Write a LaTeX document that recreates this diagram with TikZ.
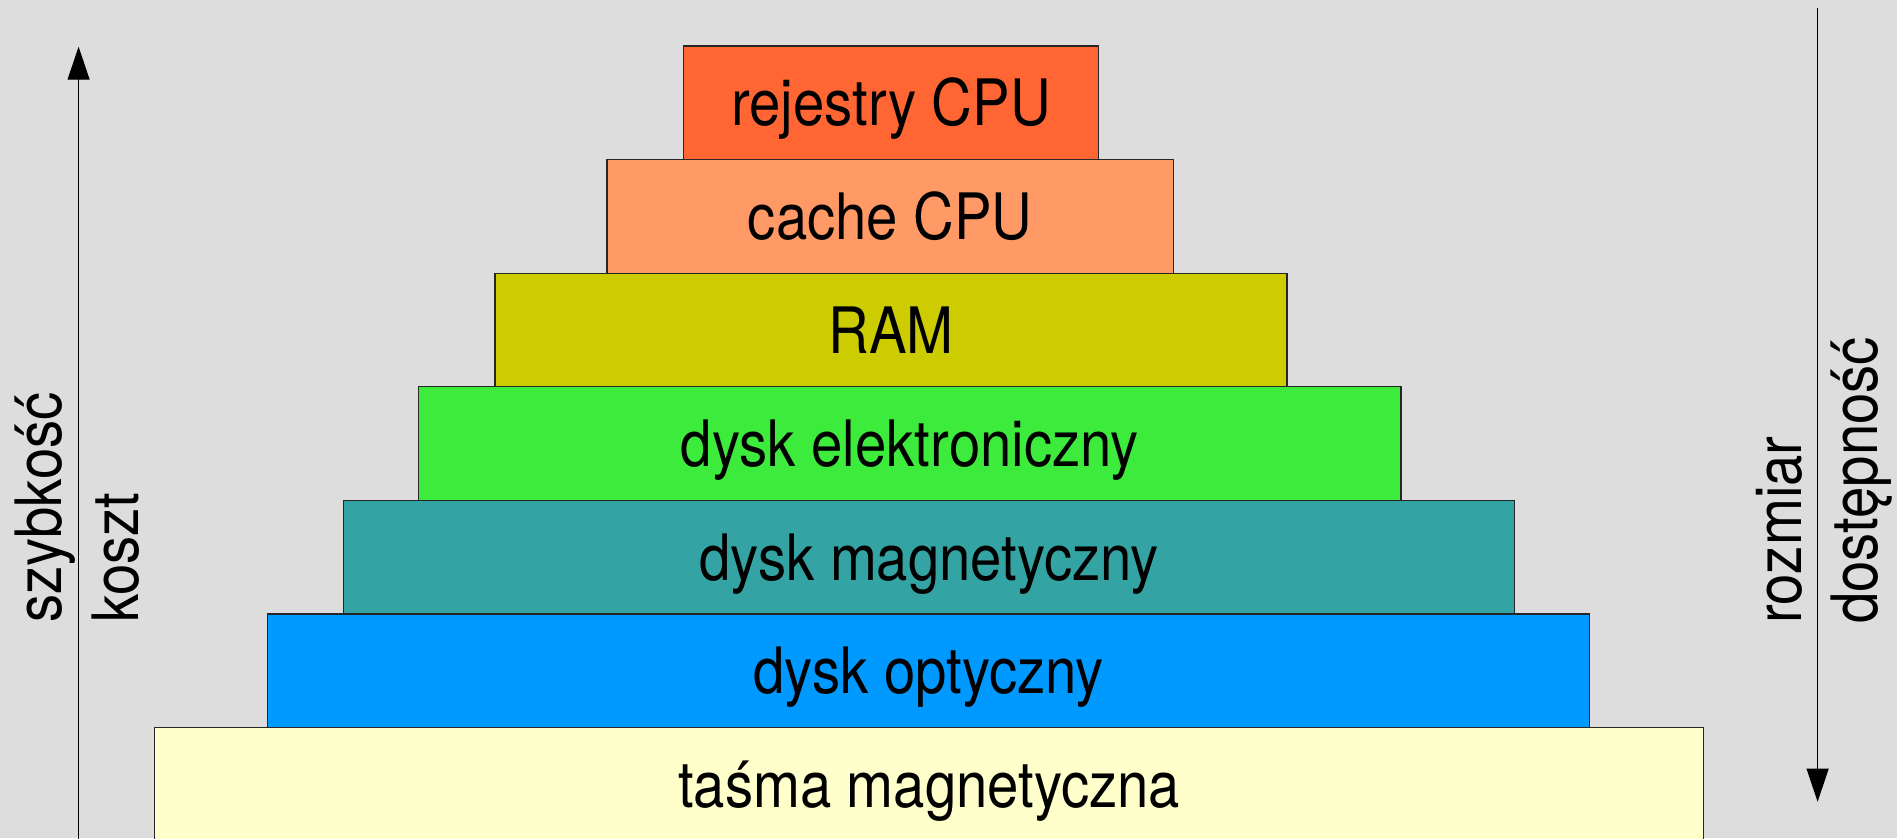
\documentclass[tikz,border=0pt]{standalone}
\usepackage{fontspec}
\setmainfont{TeX Gyre Heros}[FakeStretch=0.88]
\usetikzlibrary{arrows.meta}
\definecolor{bgc}{HTML}{DDDDDD}
\definecolor{cregs}{HTML}{FF6633}
\definecolor{ccache}{HTML}{FF9966}
\definecolor{cram}{HTML}{CCCC00}
\definecolor{cssd}{HTML}{3DEB3D}
\definecolor{chdd}{HTML}{33A3A3}
\definecolor{copt}{HTML}{0099FF}
\definecolor{ctape}{HTML}{FFFFCC}
\begin{document}
\begin{tikzpicture}[x=1pt,y=-1pt,
  tier/.style={draw=black!85,line width=1.1pt,inner sep=0pt,minimum height=113.6pt,
    text height=46pt,text depth=0pt,font=\fontsize{64}{76.8}\selectfont},
  axlabel/.style={rotate=90,anchor=base west,inner sep=0pt,font=\fontsize{64}{76.8}\selectfont},
  axarrow/.style={line width=1.1pt,-{Triangle[length=33pt,width=22pt]}}]
\fill[bgc] (0,0) rectangle (1897,838);
\useasboundingbox (0,0) rectangle (1897,838);
\node[tier,fill=cregs,minimum width=415pt]  (r1) at (891,102.8)   {rejestry CPU};
\node[tier,fill=ccache,minimum width=566.5pt] (r2) at (890.25,216.4) {cache CPU};
\node[tier,fill=cram,minimum width=792pt]   (r3) at (891,330)     {RAM};
\node[tier,fill=cssd,minimum width=982.4pt] (r4) at (909.8,443.6) {dysk elektroniczny};
\node[tier,fill=chdd,minimum width=1171.1pt] (r5) at (929.15,557.2) {dysk magnetyczny};
\node[tier,fill=copt,minimum width=1322.3pt] (r6) at (928.55,670.8) {dysk optyczny};
\node[tier,fill=ctape,minimum width=1548.5pt] (r7) at (929.15,784.4) {taśma magnetyczna};
% left axis
\coordinate (lbot) at (78.6,845);
\coordinate (ltop) at (78.6,46.7);
\draw[axarrow] (lbot) -- (ltop);
\node[axlabel] (szyb) at (61.7,623) {szybkość};
\node[axlabel] (kosz) at (138.3,623) {koszt};
% right axis
\coordinate (rtop) at (1817.6,8);
\coordinate (rbot) at (1817.6,801.7);
\draw[axarrow] (rtop) -- (rbot);
\node[axlabel] (rozm) at (1801.7,624) {rozmiar};
\node[axlabel] (dost) at (1877.5,624) {dostępność};
\end{tikzpicture}
\end{document}
